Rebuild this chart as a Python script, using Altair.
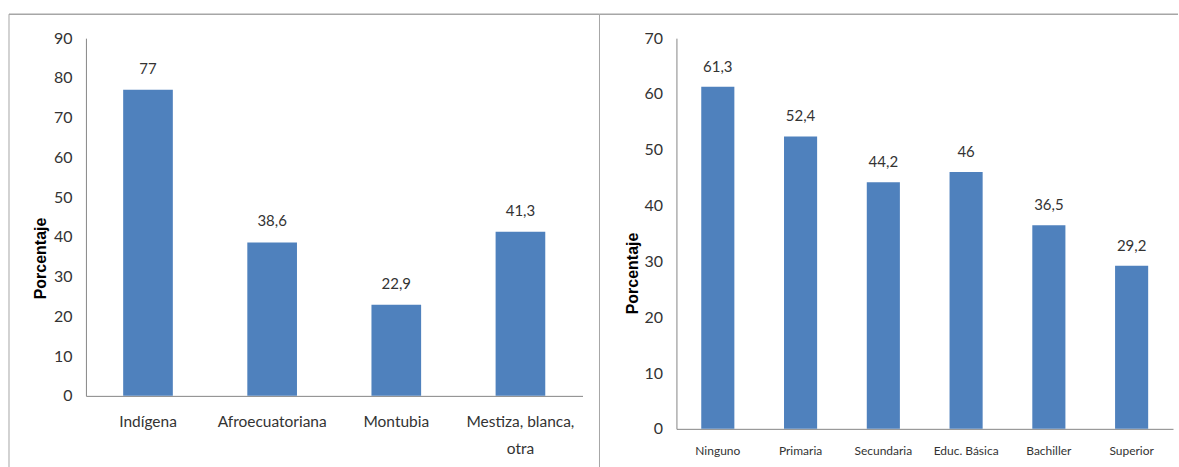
import altair as alt
import pandas as pd

# Left panel data
etnia = ["Indígena", "Afroecuatoriana", "Montubia", "Mestiza, blanca, otra"]
etnia_val = [77, 38.6, 22.9, 41.3]
etnia_lab = ["77", "38,6", "22,9", "41,3"]

# Right panel data
educ = ["Ninguno", "Primaria", "Secundaria", "Educ. Básica", "Bachiller", "Superior"]
educ_val = [61.3, 52.4, 44.2, 46, 36.5, 29.2]
educ_lab = ["61,3", "52,4", "44,2", "46", "36,5", "29,2"]

left_ticks = list(range(0, 91, 10))
right_ticks = list(range(0, 71, 10))

BAR = "#4F81BD"
TXT = "#333333"
AXIS = "#868686"
BORDER = "#A6A6A6"
FONT = "Lato"

df_l = pd.DataFrame({"cat": etnia, "val": etnia_val, "lab": etnia_lab})
df_r = pd.DataFrame({"cat": educ, "val": educ_val, "lab": educ_lab})
one = pd.DataFrame({"a": [0]})


def panel(df, cats, ticks, ymax, h, xfont, xpad, title_x, title_y, label_dy, right_end, bottom):
    x = alt.X("cat:N", sort=cats, title=None,
              scale=alt.Scale(paddingInner=0.6, paddingOuter=0.3),
              axis=alt.Axis(labelAngle=0, labelFontSize=xfont, labelFont=FONT, labelColor=TXT,
                            ticks=False, domainColor=AXIS, labelPadding=xpad,
                            labelLineHeight=27, labelOverlap=False,
                            labelExpr="datum.value == 'Mestiza, blanca, otra' ? ['Mestiza, blanca,', 'otra'] : datum.value"))
    y = alt.Y("val:Q", title="Porcentaje",
              scale=alt.Scale(domain=[0, ymax], nice=False),
              axis=alt.Axis(values=ticks, grid=False, ticks=False, domainColor=AXIS,
                            labelOverlap=False, labelFlush=False,
                            labelFontSize=16, labelFont=FONT, labelColor=TXT, labelPadding=14,
                            titleFont="Liberation Sans", titleFontSize=16, titleFontWeight="bold",
                            titleColor="#000000", titleX=title_x, titleY=title_y,
                            titleBaseline="middle", titleAngle=-90, titleAlign="center"))
    base = alt.Chart(df).encode(x=x, y=y)
    bars = base.mark_bar(color=BAR)
    labels = base.mark_text(font=FONT, fontSize=15, color=TXT, baseline="middle",
                            dy=label_dy).encode(text="lab:N")
    vline = alt.Chart(one).mark_rule(color=BORDER, strokeWidth=1).encode(
        x=alt.value(-77), y=alt.value(-24), y2=alt.value(bottom))
    hline = alt.Chart(one).mark_rule(color=BORDER, strokeWidth=1.5).encode(
        x=alt.value(-77), x2=alt.value(right_end), y=alt.value(-24))
    return alt.layer(bars, labels, vline, hline).properties(width=497, height=h)


left = panel(df_l, etnia, left_ticks, 90, 358, 15.5, 19, -45, 220, -21, 514, 430)
right = panel(df_r, educ, right_ticks, 70, 391, 12, 17, -44, 235, -20, 502, 430)

chart = alt.hconcat(left, right, spacing=94, bounds="flush").properties(
    padding={"left": 8, "top": 13, "right": 0, "bottom": 0}
).configure(background="white", view=alt.ViewConfig(stroke="transparent", strokeWidth=0))

chart.save("out.html", embed_options={"renderer": "svg", "actions": False})
